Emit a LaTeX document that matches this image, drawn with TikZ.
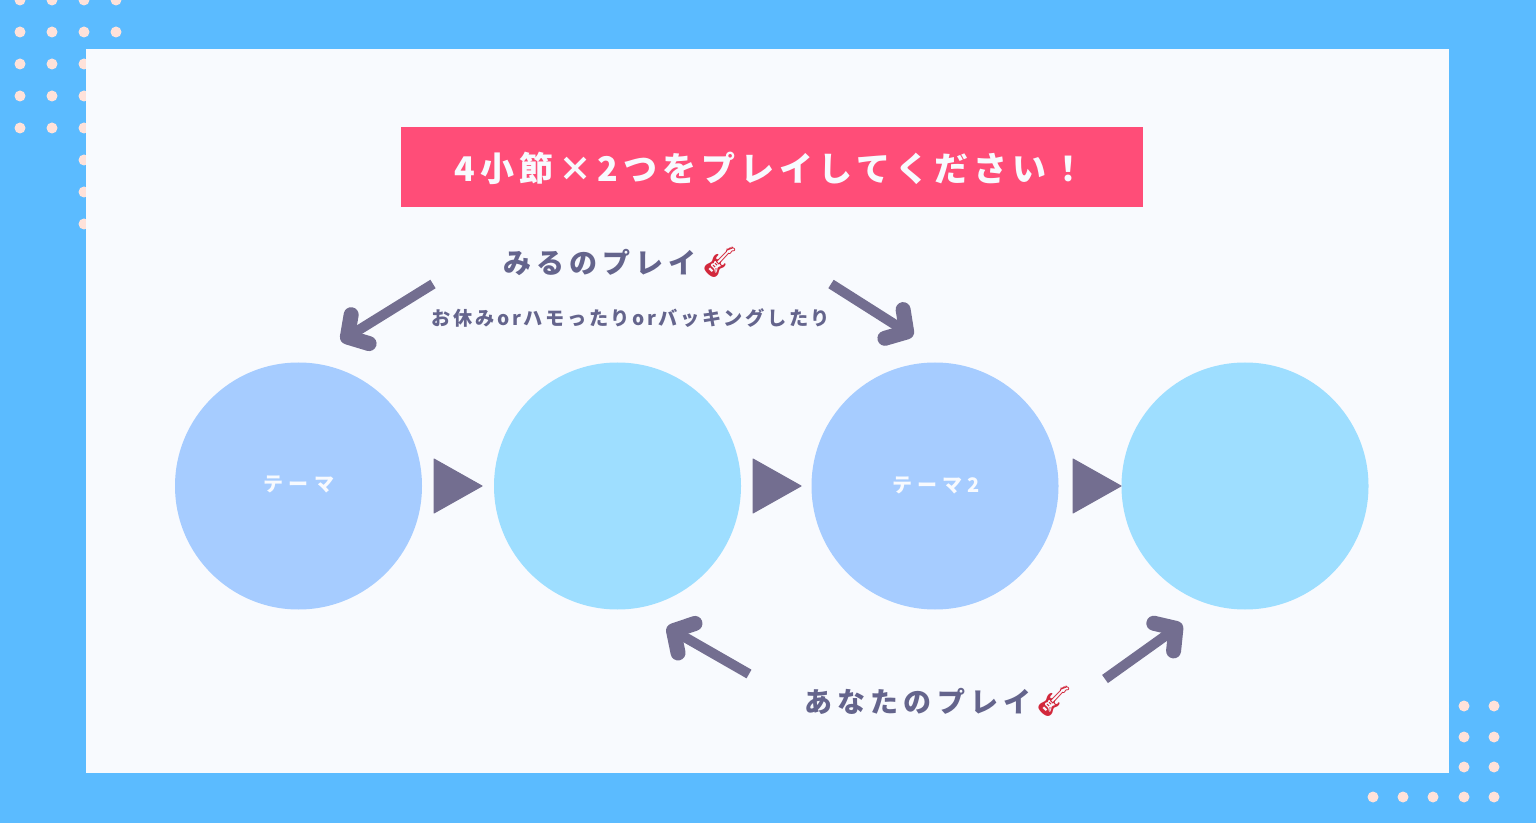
\documentclass[tikz,border=0pt]{standalone}
\usepackage{fontspec}
\usetikzlibrary{arrows.meta}
\setmainfont{Noto Sans CJK JP}[BoldFont={* Bold}]
\newfontfamily\jpspA[LetterSpace=18]{Noto Sans CJK JP Black}
\newfontfamily\jpspB[LetterSpace=15]{Noto Sans CJK JP Black}
\newfontfamily\jpspC[LetterSpace=13.5]{Noto Sans CJK JP Black}
\newfontfamily\jpspD[LetterSpace=26]{Noto Sans CJK JP Black}
\newfontfamily\emojifont{Noto Emoji}
\definecolor{bgblue}{HTML}{5BBBFF}
\definecolor{panelw}{HTML}{F8FAFE}
\definecolor{dotc}{HTML}{FFE2DA}
\definecolor{banner}{HTML}{FF4D78}
\definecolor{circA}{HTML}{A6CCFF}
\definecolor{circB}{HTML}{9EDEFF}
\definecolor{ink}{HTML}{736E90}
\definecolor{inktext}{HTML}{64648C}
\definecolor{guitar}{HTML}{D2283C}
\tikzset{
  x=0.5pt,y=-0.5pt,
  dotm/.style={circle,fill=dotc,minimum size=5.5pt,inner sep=0pt,draw=none},
  circlea/.style={circle,fill=circA,minimum size=123.5pt,inner sep=0pt,draw=none},
  circleb/.style={circle,fill=circB,minimum size=123.5pt,inner sep=0pt,draw=none},
  tri/.style={fill=ink,draw=ink,line width=0.5pt,line join=round},
  bigarrow/.style={draw=ink,line width=5pt,
    -{Straight Barb[round,length=7.5pt,width=17pt,line width=7.5pt]}},
  circlabel/.style={text=panelw,font=\jpspD\fontsize{10}{12}\selectfont,inner sep=0pt},
  playlabel/.style={text=inktext,inner sep=0pt},
}
\newcommand{\guitarmark}[1]{{\emojifont\fontsize{#1}{#1}\selectfont\textcolor{guitar}{🎸}}}
\begin{document}
\begin{tikzpicture}
\useasboundingbox (0,0) rectangle (1536,823);
\fill[bgblue] (0,0) rectangle (1536,823);
% dots, top left
\foreach \y in {0,32}
  \foreach \x in {20,52,84,116} \node[dotm] (tl\x-\y) at (\x,\y) {};
\foreach \y in {64,96,128}
  \foreach \x in {20,52,84} \node[dotm] (tl\x-\y) at (\x,\y) {};
\foreach \y in {160,192,224} \node[dotm] (tl84-\y) at (84,\y) {};
% dots, bottom right
\foreach \y in {706,737,767}
  \foreach \x in {1464,1494} \node[dotm] (br\x-\y) at (\x,\y) {};
\foreach \x in {1373,1403,1433,1464,1494} \node[dotm] (br\x-797) at (\x,797) {};
% panel
\fill[panelw] (86,49) rectangle (1449,773);
% banner
\fill[banner] (401,127) rectangle (1143,207);
\node[text=panelw,inner sep=0pt,font=\jpspB\fontsize{17}{19}\selectfont] (title) at (770,168) {4小節×2つをプレイしてください！};
% circles
\node[circlea] (c1) at (298.5,486) {};
\node[circleb] (c2) at (617.5,486) {};
\node[circlea] (c3) at (935,486) {};
\node[circleb] (c4) at (1245,486) {};
\node[circlabel] (l1) at (299,484) {テーマ};
\node[circlabel] (l3) at (936,485) {テーマ2};
% triangles
\filldraw[tri] (434,459) -- (482,486) -- (434,513) -- cycle;
\filldraw[tri] (753,459) -- (801,486) -- (753,513) -- cycle;
\filldraw[tri] (1073,459) -- (1121,486) -- (1073,513) -- cycle;
% labels
\node[playlabel,font=\jpspA\fontsize{14}{16}\selectfont] (mp) at (600,262) {みるのプレイ};
\node[inner sep=0pt] (mg) at (720,262) {\guitarmark{15}};
\node[playlabel,font=\jpspC\fontsize{9.6}{11}\selectfont] (sub) at (631,318) {お休みorハモったりorバッキングしたり};
\node[playlabel,font=\jpspA\fontsize{14}{16}\selectfont] (yp) at (918,701) {あなたのプレイ};
\node[inner sep=0pt] (yg) at (1054,701) {\guitarmark{15}};
% arrows
\coordinate (a1s) at (433,284); \coordinate (a1e) at (341,341);
\coordinate (a2s) at (831,284); \coordinate (a2e) at (913,336);
\coordinate (a3s) at (749,674); \coordinate (a3e) at (667,627);
\coordinate (a4s) at (1105,679); \coordinate (a4e) at (1182,624);
\draw[bigarrow] (a1s) -- (a1e);
\draw[bigarrow] (a2s) -- (a2e);
\draw[bigarrow] (a3s) -- (a3e);
\draw[bigarrow] (a4s) -- (a4e);
\end{tikzpicture}
\end{document}
